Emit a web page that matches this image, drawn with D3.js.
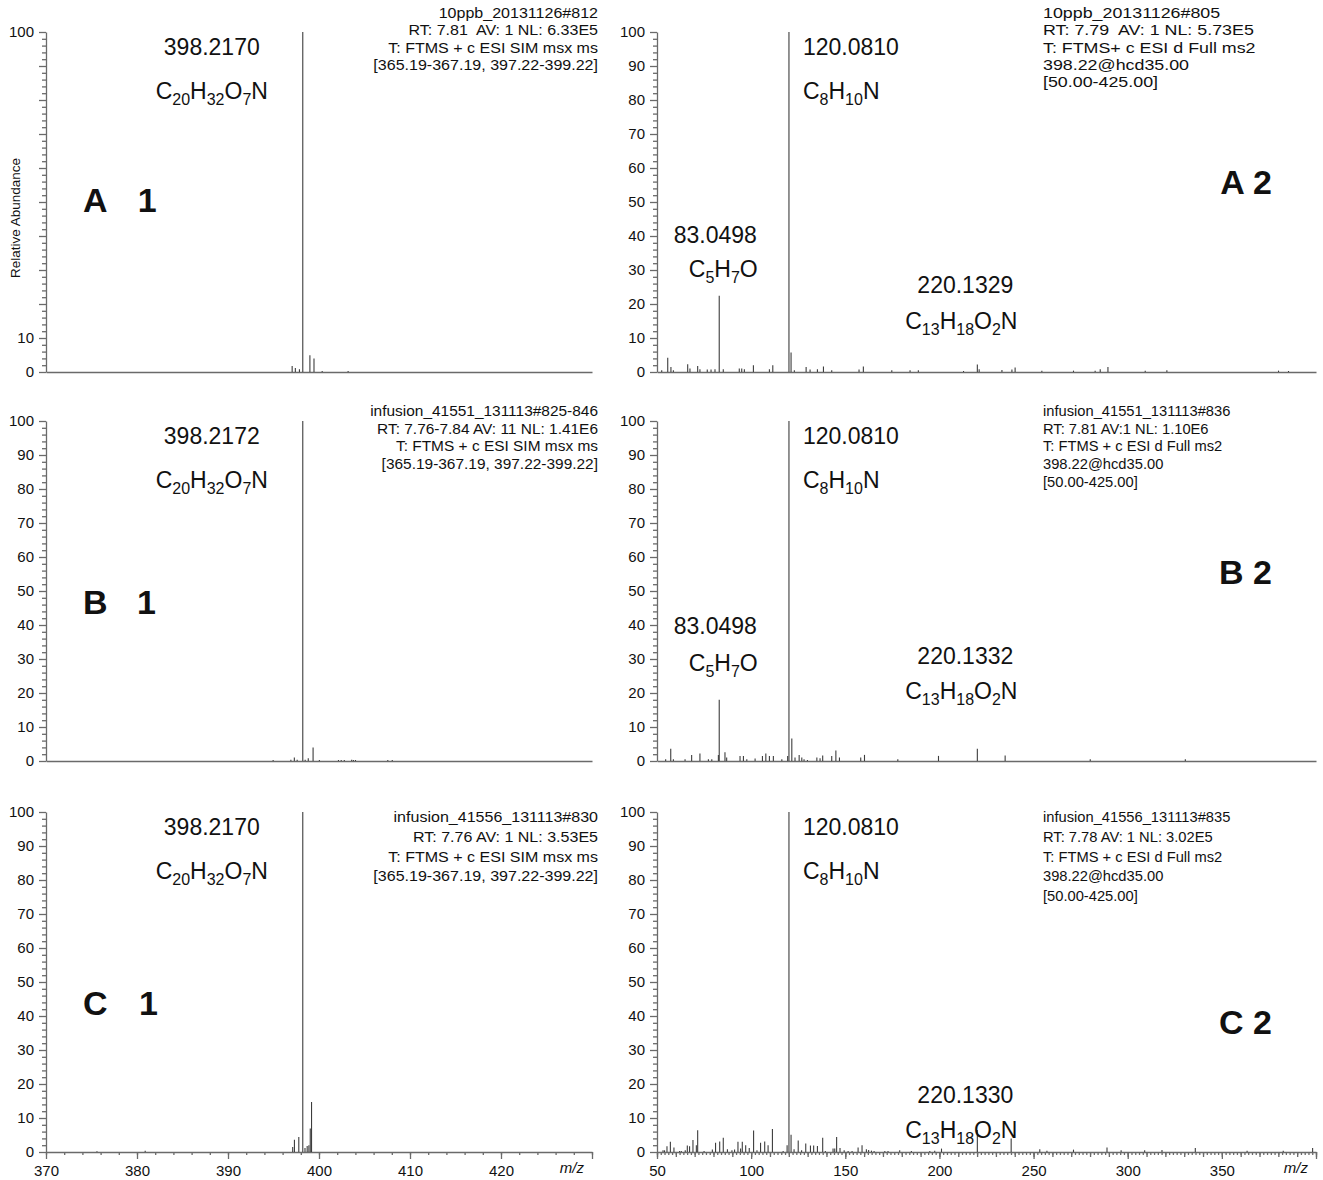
<!DOCTYPE html>
<html>
<head>
<meta charset="utf-8">
<script src="https://cdn.jsdelivr.net/npm/d3@7"></script>
<style>
  body { margin: 0; background: #fff; }
  svg { display: block; }
  text { font-family: "Liberation Sans", Arial, Helvetica, sans-serif; fill: #111; }
</style>
</head>
<body>
<svg id="chart" width="1323" height="1180"></svg>
<script>
// ---------- spectra: m/z and relative abundance (%) ----------
// A1 / B1 / C1 : SIM scans around the precursor
const a1Mz  = [397.05, 397.40, 397.85, 398.2170, 399.00, 399.45, 400.35, 403.20];
const a1Int = [1.8, 1.2, 0.8, 100, 4.9, 4.0, 0.3, 0.3];

const b1Mz  = [394.96, 396.91, 397.29, 397.60, 398.2172, 398.48, 398.82, 399.35, 400.04,
               402.14, 402.44, 402.78, 403.59, 403.78, 404.01, 407.56, 408.05];
const b1Int = [0.3, 0.4, 1.0, 0.4, 100, 0.4, 0.8, 4.0, 0.3,
               0.3, 0.3, 0.3, 0.4, 0.3, 0.3, 0.3, 0.3];

const c1Mz  = [375.6, 380.9, 397.11, 397.30, 397.78, 398.2170, 398.46, 398.70, 398.89, 399.04, 399.18];
const c1Int = [0.2, 0.4, 1.5, 3.6, 4.4, 100, 1.2, 1.8, 2.0, 6.9, 14.7];

// A2 / B2 / C2 : HCD product-ion spectra of m/z 398.22
const a2Mz  = [52.5, 55.7, 57.4, 58.7, 66.3, 67.5, 71.6, 72.8, 76.7, 78.7, 80.8, 83.0498, 85.2,
               93.7, 95.0, 96.4, 101.2, 109.7, 111.5, 120.0810, 121.2, 122.95, 129.2, 131.3,
               135.2, 138.4, 142.8, 157.3, 159.6, 174.7, 184.4, 188.8, 212.8, 220.1329, 221.1,
               233.2, 238.5, 240.2, 254.4, 271.2, 282.7, 285.4, 289.5, 309.3, 320.8, 380.1, 385.4];
const a2Int = [0.5, 4.2, 1.5, 0.5, 2.3, 1.0, 1.8, 0.8, 0.7, 0.7, 0.8, 22.4, 0.8,
               1.0, 1.0, 0.8, 2.0, 0.8, 2.0, 100, 5.7, 0.5, 1.5, 0.7,
               0.8, 1.6, 0.5, 0.7, 1.6, 0.5, 0.5, 0.5, 0.3, 2.2, 0.8,
               0.6, 0.7, 1.3, 0.4, 0.4, 0.4, 0.8, 1.5, 0.4, 0.5, 0.4, 0.3];

const b2Mz  = [54.6, 57.3, 58.7, 64.9, 68.4, 72.8, 77.3, 79.1, 82.6, 83.0498, 86.1, 87.0,
               94.1, 95.9, 97.7, 102.1, 106.0, 107.8, 109.7, 111.8, 116.3, 119.4, 120.0810,
               121.6, 123.3, 125.5, 126.9, 128.1, 129.9, 134.9, 136.6, 138.0, 142.8, 145.0,
               146.9, 158.2, 160.2, 177.9, 199.5, 220.1332, 234.9, 280.1, 330.6];
const b2Int = [0.5, 3.6, 0.5, 0.5, 1.8, 2.2, 0.5, 0.5, 1.8, 18.0, 2.6, 1.0,
               1.5, 1.5, 0.5, 0.7, 1.5, 2.2, 1.5, 1.5, 0.5, 1.5, 100,
               6.6, 1.0, 1.8, 1.0, 0.5, 0.3, 1.0, 0.8, 1.6, 1.5, 3.1,
               1.0, 1.0, 1.8, 0.5, 1.5, 3.6, 1.6, 0.5, 0.5];

const c2Mz  = [53.2, 54.0, 55.3, 57.1, 59.0, 62.0, 62.9, 65.0, 66.1, 67.3, 69.1, 70.9, 71.6,
               75.0, 79.4, 81.1, 83.3, 85.2, 87.4, 89.8, 91.2, 93.0, 94.4, 95.3, 97.1, 99.0,
               101.3, 103.1, 105.0, 107.2, 109.0, 111.3, 117.0, 119.1, 120.0810, 121.2, 122.8,
               125.0, 126.8, 129.0, 131.5, 133.2, 135.2, 138.0, 139.4, 143.5, 144.4, 145.4,
               147.2, 149.4, 151.5, 153.6, 156.8, 158.9, 161.2, 162.4, 163.9, 165.3, 171.0,
               172.7, 178.9, 185.1, 194.9, 197.5, 201.1, 220.1330, 238.1, 253.3, 257.1, 271.2,
               289.0, 296.5, 309.0, 318.2, 335.9, 363.4, 382.6, 398.2];
const c2Int = [0.5, 0.5, 1.7, 3.0, 1.3, 0.3, 0.3, 0.5, 1.9, 1.7, 3.5, 2.0, 6.4,
               0.3, 0.7, 2.7, 3.1, 4.2, 0.8, 0.5, 0.7, 3.0, 1.0, 3.0, 2.0, 1.2,
               6.3, 0.5, 2.7, 3.1, 2.0, 6.8, 0.3, 2.0, 100, 5.1, 0.8,
               3.4, 0.5, 2.5, 1.9, 1.9, 1.8, 4.2, 0.3, 1.0, 1.0, 4.4,
               1.2, 0.5, 0.3, 0.3, 1.3, 2.0, 0.8, 0.6, 0.4, 0.3, 0.3,
               0.3, 0.5, 0.3, 0.3, 0.4, 1.0, 6.5, 4.0, 0.8, 0.4, 0.7,
               1.3, 0.5, 0.5, 0.6, 1.2, 0.4, 0.4, 1.2];

// ---------- axis ticks ----------
const yTickValues   = [0, 10, 20, 30, 40, 50, 60, 70, 80, 90, 100];
const yLabelsSparse = [0, 10, 100];
const leftXTicks    = [370, 380, 390, 400, 410, 420];
const rightXTicks   = [50, 100, 150, 200, 250, 300, 350];
const leftXDomain   = [370, 430];
const rightXDomain  = [50, 400];

// ---------- scan headers ----------
const headA1 = ["10ppb_20131126#812", "RT: 7.81  AV: 1 NL: 6.33E5", "T: FTMS + c ESI SIM msx ms", "[365.19-367.19, 397.22-399.22]"];
const headB1 = ["infusion_41551_131113#825-846", "RT: 7.76-7.84 AV: 11 NL: 1.41E6", "T: FTMS + c ESI SIM msx ms", "[365.19-367.19, 397.22-399.22]"];
const headC1 = ["infusion_41556_131113#830", "RT: 7.76 AV: 1 NL: 3.53E5", "T: FTMS + c ESI SIM msx ms", "[365.19-367.19, 397.22-399.22]"];
const headA2 = ["10ppb_20131126#805", "RT: 7.79  AV: 1 NL: 5.73E5", "T: FTMS+ c ESI d Full ms2", "398.22@hcd35.00", "[50.00-425.00]"];
const headB2 = ["infusion_41551_131113#836", "RT: 7.81 AV:1 NL: 1.10E6", "T: FTMS + c ESI d Full ms2", "398.22@hcd35.00", "[50.00-425.00]"];
const headC2 = ["infusion_41556_131113#835", "RT: 7.78 AV: 1 NL: 3.02E5", "T: FTMS + c ESI d Full ms2", "398.22@hcd35.00", "[50.00-425.00]"];

// ---------- peak annotations: [peak m/z, mass text, formula] ----------
const annA1 = [[398.2170, "398.2170", "C20H32O7N"]];
const annB1 = [[398.2172, "398.2172", "C20H32O7N"]];
const annC1 = [[398.2170, "398.2170", "C20H32O7N"]];
const annA2 = [[120.0810, "120.0810", "C8H10N"], [83.0498, "83.0498", "C5H7O"], [220.1329, "220.1329", "C13H18O2N"]];
const annB2 = [[120.0810, "120.0810", "C8H10N"], [83.0498, "83.0498", "C5H7O"], [220.1332, "220.1332", "C13H18O2N"]];
const annC2 = [[120.0810, "120.0810", "C8H10N"], [220.1330, "220.1330", "C13H18O2N"]];

const panelNames = ["A 1", "A 2", "B 1", "B 2", "C 1", "C 2"];

// ---------- layout ----------
const rowTop   = [32, 421, 812];
const plotH    = 340;
const colX     = [[46, 592], [657, 1316]];
const headBase = [18, 416, 822];          // first header baseline per row
const headStep = [17.3, 17.7, 19.8];      // header line spacing per row
const headX    = [598, 1043];
const headFont = "15px";
// horizontal stretch of the header text, per panel
const headScale = { "A 1": 1.07, "B 1": 1.03, "C 1": 1.07, "A 2": 1.19, "B 2": 0.98, "C 2": 0.98 };
// annotation placement: [dx from peak (px), anchor, mass y (%), formula y (%), formula dx]
const annLayout = {
  "A 1": [[-91, "middle", 95.6, 82.4, 0]],
  "B 1": [[-91, "middle", 95.6, 82.4, 0]],
  "C 1": [[-91, "middle", 95.6, 82.4, 0]],
  "A 2": [[14, "start", 95.6, 82.4, 0], [-4, "middle", 40.3, 30.0, 8], [-12, "middle", 25.6, 14.7, -4]],
  "B 2": [[14, "start", 95.6, 82.4, 0], [-4, "middle", 39.7, 28.5, 8], [-12, "middle", 30.9, 20.3, -4]],
  "C 2": [[14, "start", 95.6, 82.4, 0], [-12, "middle", 16.8, 6.2, -4]]
};
// panel letter placement: [x, y (%), anchor, word gap]
const nameLayout = {
  "A 1": [83, 50.6, "start", 22], "B 1": [83, 46.8, "start", 20], "C 1": [83, 43.8, "start", 22],
  "A 2": [1272, 55.9, "end", 0], "B 2": [1272, 55.6, "end", 0], "C 2": [1272, 38.2, "end", 0]
};

const AXIS = "#6a6a6a", PEAK = "#3d3d3d";

const panels = [
  { name: "A 1", row: 0, col: 0, mz: a1Mz, ab: a1Int, head: headA1, ann: annA1, yLabels: yLabelsSparse },
  { name: "A 2", row: 0, col: 1, mz: a2Mz, ab: a2Int, head: headA2, ann: annA2, yLabels: yTickValues },
  { name: "B 1", row: 1, col: 0, mz: b1Mz, ab: b1Int, head: headB1, ann: annB1, yLabels: yTickValues },
  { name: "B 2", row: 1, col: 1, mz: b2Mz, ab: b2Int, head: headB2, ann: annB2, yLabels: yTickValues },
  { name: "C 1", row: 2, col: 0, mz: c1Mz, ab: c1Int, head: headC1, ann: annC1, yLabels: yTickValues },
  { name: "C 2", row: 2, col: 1, mz: c2Mz, ab: c2Int, head: headC2, ann: annC2, yLabels: yTickValues }
];

const svg = d3.select("#chart");

// chemical formula: digits become subscripts
function writeFormula(sel, str) {
  const parts = str.match(/\d+|\D+/g);
  let shifted = false;
  parts.forEach(p => {
    const isSub = /^\d+$/.test(p);
    const t = sel.append("tspan").text(p);
    if (isSub) { t.attr("font-size", "16px").attr("dy", shifted ? 0 : 6); shifted = true; }
    else { t.attr("dy", shifted ? -6 : 0); shifted = false; }
  });
}

panels.forEach(p => {
  const domain = p.col === 0 ? leftXDomain : rightXDomain;
  const x = d3.scaleLinear().domain(domain).range(colX[p.col]);
  const y = d3.scaleLinear().domain([0, 100]).range([rowTop[p.row] + plotH, rowTop[p.row]]);
  const g = svg.append("g");

  // y axis: minor ticks every 2 %, major every 10 %
  const minor = d3.range(0, 101, 2).filter(v => v % 10 !== 0);
  g.append("g").attr("transform", `translate(${colX[p.col][0]},0)`)
    .call(d3.axisLeft(y).tickValues(minor).tickSize(4).tickFormat(""))
    .call(s => s.select(".domain").remove());
  g.append("g").attr("transform", `translate(${colX[p.col][0]},0)`)
    .call(d3.axisLeft(y).tickValues(yTickValues).tickSize(7).tickSizeOuter(0).tickPadding(5)
      .tickFormat(v => p.yLabels.includes(v) ? v : ""))
    .call(s => s.selectAll("text").attr("font-size", "15px").attr("fill", "#111")
      .attr("font-family", "Liberation Sans, Arial, sans-serif"));

  // x axis
  const xg = g.append("g").attr("transform", `translate(0,${y(0)})`);
  if (p.row === 2) {
    const minorX = d3.range(domain[0], domain[1] + 0.001, 2);
    const mid = p.col === 0 ? [] : d3.range(domain[0], domain[1] + 0.001, 10);
    xg.append("g").call(d3.axisBottom(x).tickValues(minorX).tickSize(3).tickFormat(""))
      .call(s => s.select(".domain").remove());
    if (mid.length) xg.append("g").call(d3.axisBottom(x).tickValues(mid).tickSize(5).tickFormat(""))
      .call(s => s.select(".domain").remove());
    const labelled = (p.col === 0 ? leftXTicks : rightXTicks).concat([domain[1]]);
    xg.append("g").call(d3.axisBottom(x).tickValues(labelled).tickSize(7).tickSizeOuter(0).tickPadding(6)
        .tickFormat(v => v === domain[1] ? "" : v))
      .call(s => s.selectAll("text").attr("font-size", "15px").attr("fill", "#111")
        .attr("font-family", "Liberation Sans, Arial, sans-serif"));
    xg.append("text").attr("x", x(domain[1]) - 8).attr("y", 21).attr("text-anchor", "end")
      .attr("font-size", "15px").attr("font-style", "italic").text("m/z");
  } else {
    xg.append("g").call(d3.axisBottom(x).tickValues([]).tickSize(0).tickSizeOuter(0));
  }
  g.selectAll(".domain, .tick line").attr("stroke", AXIS).attr("stroke-width", 1.3);

  // sticks
  g.append("g").selectAll("line").data(d3.zip(p.mz, p.ab)).join("line")
    .attr("x1", d => x(d[0])).attr("x2", d => x(d[0]))
    .attr("y1", y(0)).attr("y2", d => y(d[1]))
    .attr("stroke", PEAK).attr("stroke-width", 1.1);

  // scan header
  p.head.forEach((line, i) => {
    g.append("text")
      .attr("transform", `translate(${headX[p.col]},${headBase[p.row] + i * headStep[p.row]}) scale(${headScale[p.name]},1)`)
      .attr("text-anchor", p.col === 0 ? "end" : "start")
      .attr("font-size", headFont).style("white-space", "pre").text(line);
  });

  // peak annotations
  p.ann.forEach((a, i) => {
    const [dx, anchor, yMass, yForm, fdx] = annLayout[p.name][i];
    const px = x(a[0]) + dx;
    g.append("text").attr("x", px).attr("y", y(yMass) + 8).attr("text-anchor", anchor)
      .attr("font-size", "23px").text(a[1]);
    const f = g.append("text").attr("x", px + fdx).attr("y", y(yForm) + 7).attr("text-anchor", anchor)
      .attr("font-size", "23px");
    writeFormula(f, a[2]);
  });

  // panel letter
  const [nx, ny, na, gap] = nameLayout[p.name];
  g.append("text").attr("x", nx).attr("y", y(ny) + 12).attr("text-anchor", na)
    .attr("font-size", "34px").attr("font-weight", "bold")
    .style("word-spacing", gap + "px").text(p.name);
});

// shared y-axis title
svg.append("text").attr("transform", "translate(20,218) rotate(-90)")
  .attr("text-anchor", "middle").attr("font-size", "13.5px").text("Relative Abundance");
</script>
</body>
</html>
